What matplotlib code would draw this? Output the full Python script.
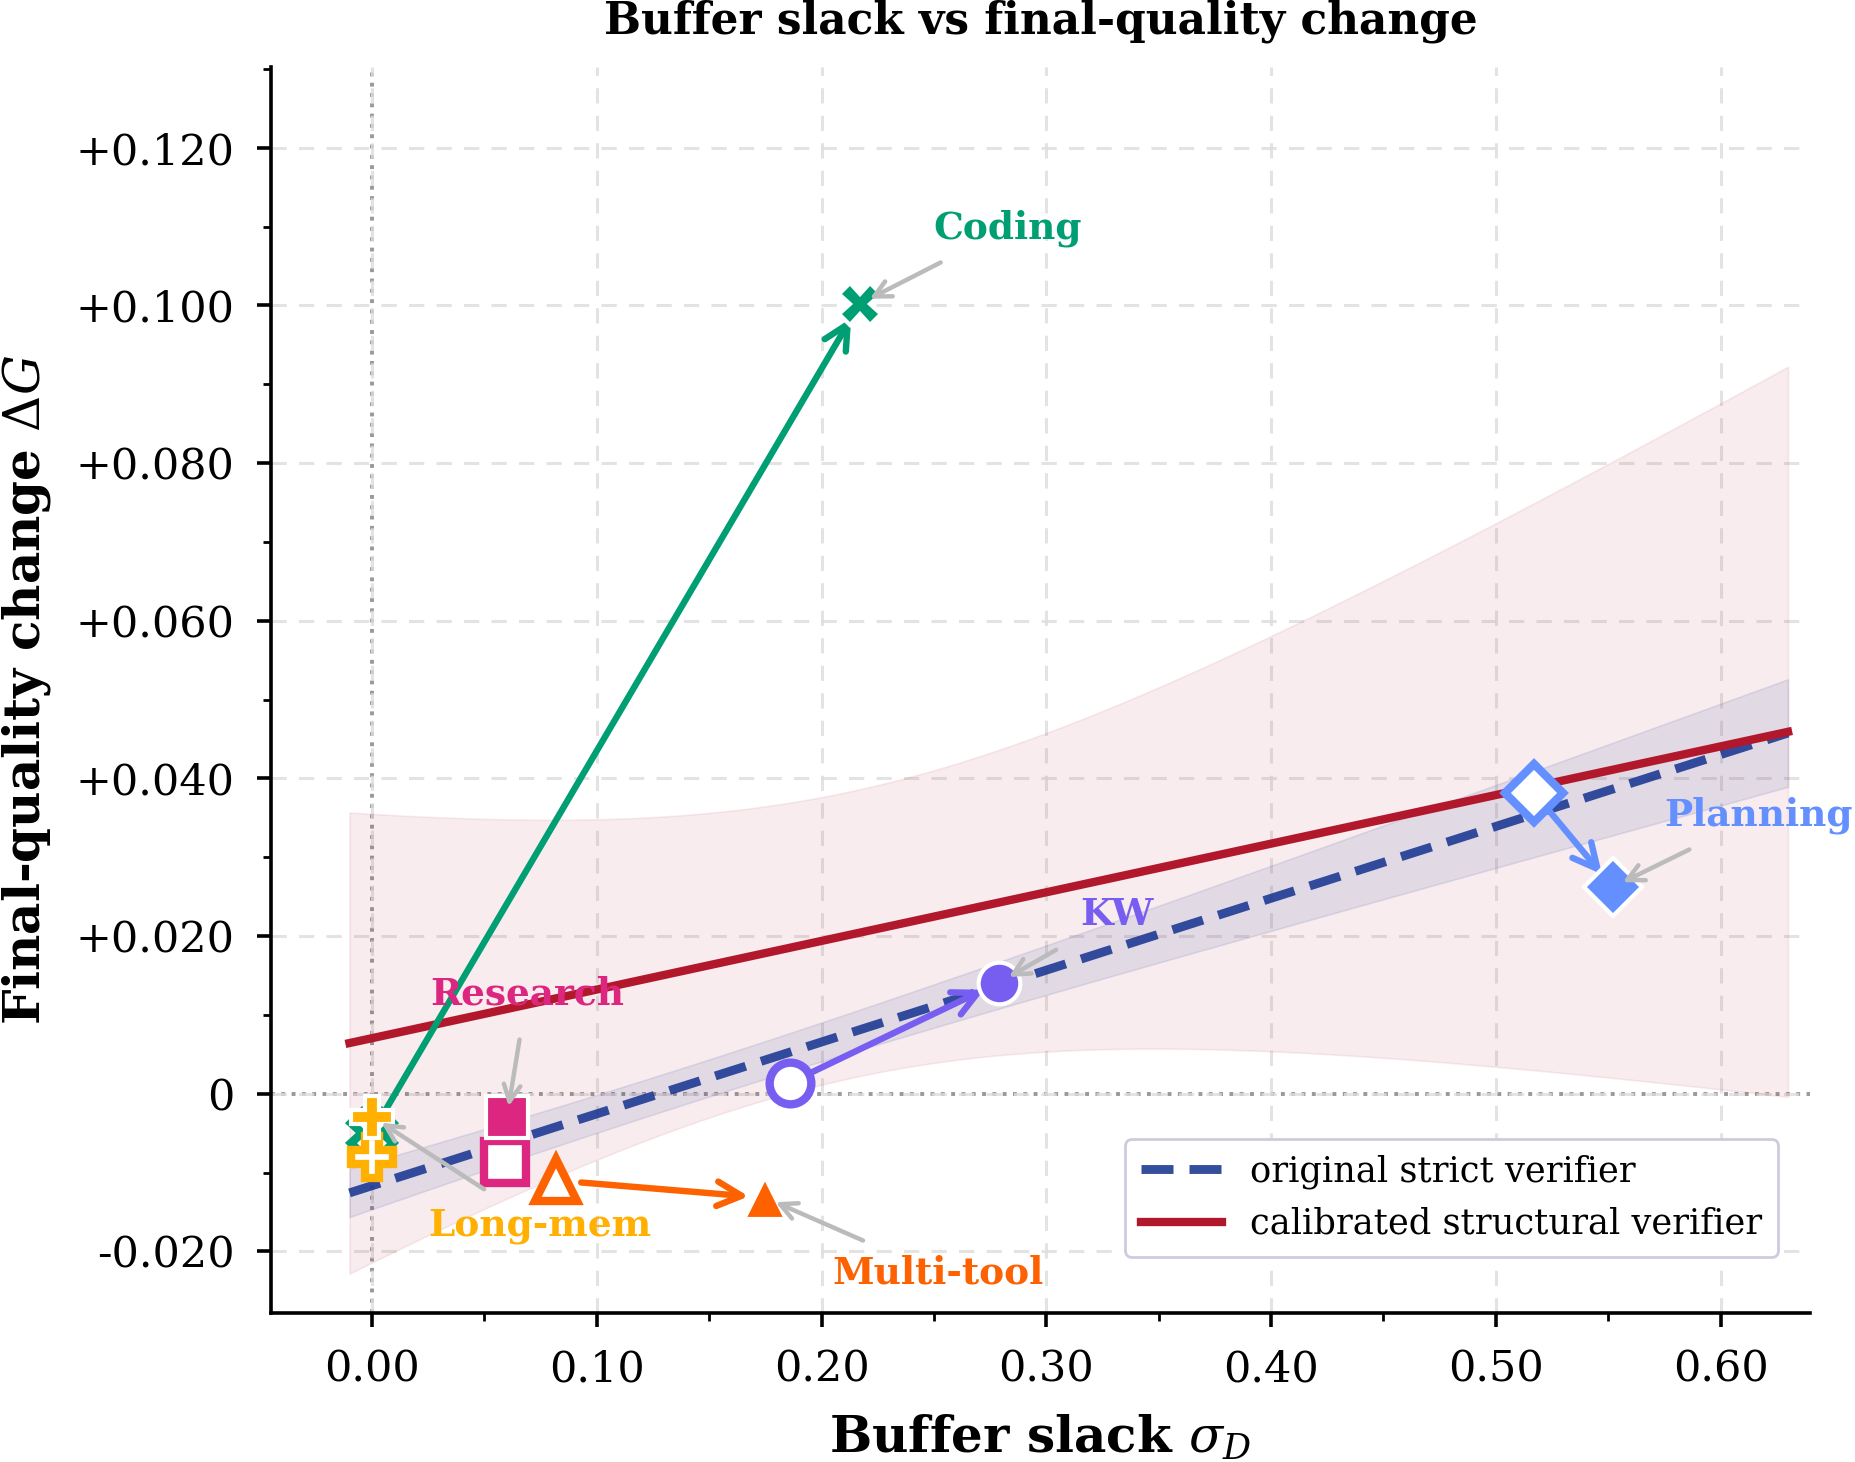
import numpy as np
import matplotlib
matplotlib.use("Agg")
from matplotlib import pyplot as plt
from matplotlib.ticker import MultipleLocator, FuncFormatter

plt.rcParams['font.family'] = ['DejaVu Serif']
plt.rcParams['mathtext.fontset'] = 'dejavuserif'

# data
tasks = ["Coding", "Research", "Long-mem", "Multi-tool", "KW", "Planning"]
sigma_orig = [0.000, 0.059, 0.000, 0.082, 0.186, 0.517]
dg_orig = [-0.0050, -0.0087, -0.0080, -0.0110, 0.0014, 0.0382]
sigma_cal = [0.217, 0.060, 0.000, 0.175, 0.279, 0.552]
dg_cal = [0.1002, -0.0030, -0.0029, -0.0132, 0.0141, 0.0262]

colors = ["#009E73", "#DC267F", "#FFB000", "#FE6100", "#785EF0", "#648FFF"]
markers = ["X", "s", "P", "^", "o", "D"]
# where the task names sit (data coords)
label_pos = [(0.283, 0.1098), (0.069, 0.0127), (0.0747, -0.0167),
             (0.252, -0.0228), (0.3316, 0.0227), (0.617, 0.0353)]

fig = plt.figure(figsize=(9.275, 7.31), dpi=200)
ax = fig.add_axes([0.146, 0.102, 0.830, 0.852])


def fit_band(x, y, grid):
    x = np.asarray(x); y = np.asarray(y)
    slope, icpt = np.polyfit(x, y, 1)
    res = y - (icpt + slope * x)
    s = np.sqrt(np.sum(res ** 2) / (len(x) - 2))
    sxx = np.sum((x - x.mean()) ** 2)
    se = s * np.sqrt(1 / len(x) + (grid - x.mean()) ** 2 / sxx)
    yhat = icpt + slope * grid
    return yhat, se


grid = np.linspace(-0.01, 0.63, 200)
y_o, se_o = fit_band(sigma_orig, dg_orig, grid)
y_c, se_c = fit_band(sigma_cal, dg_cal, grid)

ax.fill_between(grid, y_c - se_c, y_c + se_c, facecolor="#B2182B", alpha=0.08,
                edgecolor="#B2182B", linewidth=0.6, zorder=1)
ax.fill_between(grid, y_o - se_o, y_o + se_o, facecolor="#1F3A93", alpha=0.10,
                edgecolor="#1F3A93", linewidth=0.6, zorder=1.1)
ax.plot(grid, y_o, color="#1F3A93", linestyle=(0, (3.6, 1.8)), linewidth=3.2, zorder=2,
        alpha=0.9, label="original strict verifier")
ax.plot(grid, y_c, color="#B2182B", linestyle="-", linewidth=3, zorder=2,
        label="calibrated structural verifier")

ax.axvline(0, color="#999999", linestyle=":", linewidth=1.4, zorder=0.5)
ax.axhline(0, color="#999999", linestyle=":", linewidth=1.4, zorder=0.5)

for i, name in enumerate(tasks):
    c = colors[i]
    z = 4 + i
    ax.annotate("", xy=(sigma_cal[i], dg_cal[i]), xytext=(sigma_orig[i], dg_orig[i]),
                arrowprops=dict(arrowstyle="->", color=c, lw=2.3, mutation_scale=22,
                                shrinkA=9, shrinkB=6), zorder=3)
    ax.plot(sigma_orig[i], dg_orig[i], marker=markers[i], markersize=15,
            markerfacecolor="white", markeredgecolor=c, markeredgewidth=3,
            linestyle="none", zorder=z)
    ax.plot(sigma_cal[i], dg_cal[i], marker=markers[i], markersize=15,
            markerfacecolor=c, markeredgecolor="white", markeredgewidth=1.5,
            linestyle="none", zorder=z + 0.5)
    ax.annotate(name, xy=(sigma_cal[i], dg_cal[i]), xytext=label_pos[i],
                ha="center", va="center", fontsize=13.5, fontweight="bold", color=c,
                arrowprops=dict(arrowstyle="->", color="#BBBBBB", lw=1.6,
                                mutation_scale=15, shrinkA=8, shrinkB=4),
                zorder=12, annotation_clip=False)

ax.set_xlim(-0.045, 0.64)
ax.set_ylim(-0.0278, 0.1302)
ax.xaxis.set_major_locator(MultipleLocator(0.1))
ax.xaxis.set_minor_locator(MultipleLocator(0.05))
ax.yaxis.set_major_locator(MultipleLocator(0.02))
ax.yaxis.set_minor_locator(MultipleLocator(0.01))
ax.xaxis.set_major_formatter(FuncFormatter(lambda v, p: f"{v:.2f}"))
ax.yaxis.set_major_formatter(FuncFormatter(lambda v, p: "0" if abs(v) < 1e-9 else f"{v:+.3f}"))
ax.tick_params(axis="both", which="major", labelsize=15.5, length=5, width=1.3, pad=8)
ax.tick_params(axis="both", which="minor", length=3, width=1)

ax.grid(True, which="major", linestyle=(0, (5, 4)), color="#DDDDDD", linewidth=1.1, alpha=0.8)
ax.set_axisbelow(True)
for side in ["top", "right"]:
    ax.spines[side].set_visible(False)
for side in ["left", "bottom"]:
    ax.spines[side].set_linewidth(1.3)

ax.set_xlabel(r"Buffer slack $\sigma_D$", fontsize=18, fontweight="bold", labelpad=8)
ax.set_ylabel(r"Final-quality change $\Delta G$", fontsize=18, fontweight="bold", labelpad=8)
ax.set_title("Buffer slack vs final-quality change", fontsize=15.8, fontweight="bold", pad=12)

leg = ax.legend(loc="lower right", bbox_to_anchor=(0.979, 0.045), borderaxespad=0,
                fontsize=12.7, handlelength=2.3, frameon=True, fancybox=True, borderpad=0.45)
leg.get_frame().set_edgecolor("#CCCCDD")
leg.get_frame().set_alpha(1)

fig.savefig("out.png", dpi=200)
